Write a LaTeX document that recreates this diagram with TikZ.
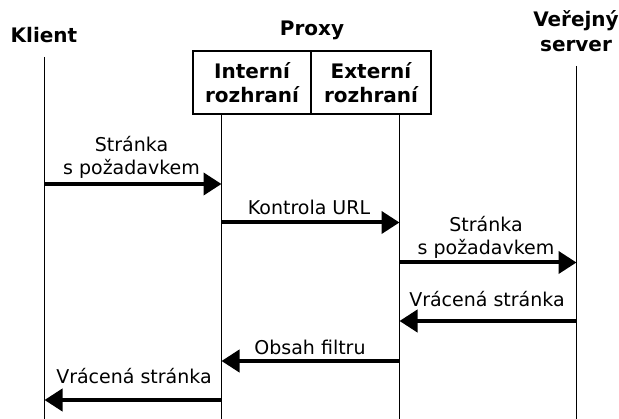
\documentclass[tikz,border=0pt]{standalone}
\usepackage{fontspec}
\setmainfont{DejaVu Sans}
\usetikzlibrary{arrows.meta}
\begin{document}
\begin{tikzpicture}[x=1pt,y=-1pt,
  life/.style={line width=1.1pt},
  msg/.style={line width=4pt,-{Triangle[length=18pt,width=22pt]}},
  lbl/.style={font=\fontsize{19}{23}\selectfont, inner sep=0pt, anchor=base, align=center},
  head/.style={font=\bfseries\fontsize{20}{25}\selectfont, inner sep=0pt, anchor=base, align=center},
  cell/.style={draw, line width=1.3pt, minimum height=63pt, inner sep=0pt, align=center,
    font=\bfseries\fontsize{20}{24}\selectfont}]
\useasboundingbox (0,0) rectangle (619,419);

% participants (base anchor sits on the last line of a node)
\node[head] (klient) at (44,43) {Klient};
\node[head] (proxy) at (312,36) {Proxy};
\node[head] (verejny) at (576,52) {Veřejný\\server};
\node[cell, minimum width=118pt] (intf) at (252,82.5) {Interní\\rozhraní};
\node[cell, minimum width=120pt] (extf) at (371,82.5) {Externí\\rozhraní};

% lifelines
\coordinate (kTop) at (44.5,57);
\coordinate (kBot) at (44.5,419);
\coordinate (iTop) at (221.5,114);
\coordinate (iBot) at (221.5,419);
\coordinate (eTop) at (399.5,114);
\coordinate (eBot) at (399.5,419);
\coordinate (sTop) at (576.5,66);
\coordinate (sBot) at (576.5,419);
\draw[life] (kTop) -- (kBot);
\draw[life] (iTop) -- (iBot);
\draw[life] (eTop) -- (eBot);
\draw[life] (sTop) -- (sBot);

% message levels
\coordinate (m1) at (0,184);
\coordinate (m2) at (0,222.5);
\coordinate (m3) at (0,262.5);
\coordinate (m4) at (0,321);
\coordinate (m5) at (0,361);
\coordinate (m6) at (0,400);

\draw[msg] (kTop |- m1) -- (iTop |- m1);
\draw[msg] (iTop |- m2) -- (eTop |- m2);
\draw[msg] (eTop |- m3) -- (sTop |- m3);
\draw[msg] (sTop |- m4) -- (eTop |- m4);
\draw[msg] (eTop |- m5) -- (iTop |- m5);
\draw[msg] (iTop |- m6) -- (kTop |- m6);

% message labels
\node[lbl] (l1) at (131.5,175) {Stránka\\s požadavkem};
\node[lbl] (l2) at (309,215) {Kontrola URL};
\node[lbl] (l3) at (486,255) {Stránka\\s požadavkem};
\node[lbl] (l4) at (487,307) {Vrácená stránka};
\node[lbl] (l5) at (310,355) {Obsah filtru};
\node[lbl] (l6) at (134,384) {Vrácená stránka};
\end{tikzpicture}
\end{document}
